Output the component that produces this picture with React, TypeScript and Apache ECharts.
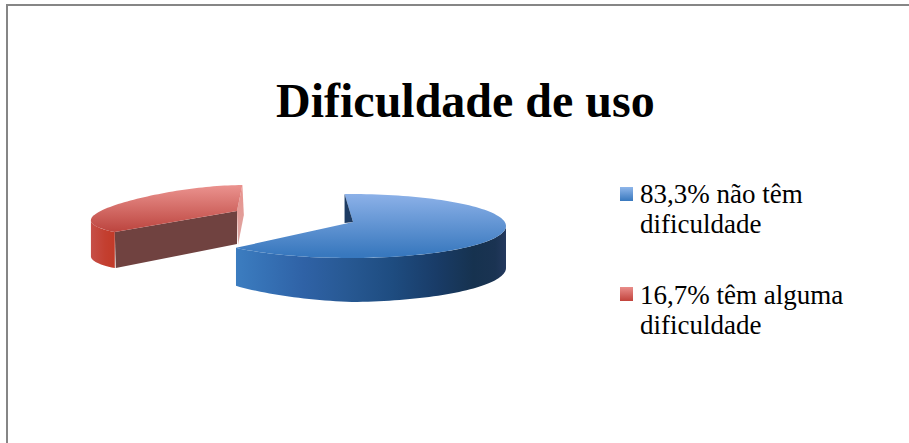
import React, { useEffect, useRef } from "react";
import * as echarts from "echarts";

const titleText = "Dificuldade de uso";
const sliceNames = ["83,3% não têm\ndificuldade", "16,7% têm alguma\ndificuldade"];
// Visual share of each slice as drawn in the picture
const sliceValues = [63.6, 36.4];

const FONT = '"Liberation Serif", serif';
const START_DEG = -2;

const vGrad = (a: string, b: string, stopB = 1) =>
  new echarts.graphic.LinearGradient(0, 0, 0, 1, [
    { offset: 0, color: a },
    { offset: stopB, color: b },
    { offset: 1, color: b },
  ]);
const hGrad = (stops: [number, string][]) =>
  new echarts.graphic.LinearGradient(
    0, 0, 1, 0,
    stops.map(([offset, color]) => ({ offset, color }))
  );

type Geo = { cx: number; cy: number; rx: number; ry: number; persp: number; apex: number[] };
const GEO: Geo[] = [
  { cx: 350, cy: 226, rx: 156, ry: 32, persp: 0, apex: [353, 222] },
  { cx: 246, cy: 213, rx: 149, ry: 28, persp: 0.3, apex: [237, 211] },
];

function pt(g: Geo, deg: number, dy = 0): number[] {
  const t = (deg * Math.PI) / 180;
  const s = 1 - g.persp * Math.cos(t);
  return [g.cx + g.rx * Math.sin(t) * s, g.cy - g.ry * Math.cos(t) + dy];
}
function arc(g: Geo, a: number, b: number, dy: (deg: number) => number = () => 0): number[][] {
  const n = Math.max(2, Math.ceil(Math.abs(b - a) / 2));
  const out: number[][] = [];
  for (let i = 0; i <= n; i++) {
    const d = a + ((b - a) * i) / n;
    out.push(pt(g, d, dy(d)));
  }
  return out;
}

function renderItem(params: any, api: any) {
  const i = params.dataIndex;
  const total = sliceValues.reduce((s, v) => s + v, 0);
  const before = sliceValues.slice(0, i).reduce((s, v) => s + v, 0);
  const a0 = START_DEG + (before / total) * 360;
  const a1 = a0 + (api.value(0) / total) * 360;
  const g = GEO[i];
  const children: any[] = [];
  const poly = (points: number[][], fill: any) => ({
    type: "polygon",
    shape: { points },
    style: { fill, stroke: "none" },
  });
  if (i === 0) {
    const depth = (d: number) =>
      d <= 180 ? 42 + (2 * (d - 90)) / 90 : 44 - (6 * (d - 180)) / (a1 - 180);
    const wa = 90;
    const top = arc(g, wa, a1);
    const bottom = arc(g, a1, wa, depth);
    children.push(
      poly(top.concat(bottom), hGrad([
        [0, "#3C7DC0"], [0.12, "#3570B4"], [0.25, "#2F62A6"], [0.42, "#275892"],
        [0.58, "#1E4C80"], [0.74, "#193C68"], [0.88, "#16324F"], [0.96, "#1A3352"], [1, "#24395E"],
      ]))
    );
    children.push(poly([g.apex as number[]].concat(arc(g, a0, a1)), vGrad("#8CB1E8", "#3878BE", 0.95)));
    const p0 = pt(g, a0);
    children.push(poly([p0, g.apex, [p0[0], g.apex[1] + 1]], "#1D3B63"));
  } else {
    const depth = 36;
    const c = pt(g, a0);
    const e = pt(g, a1);
    const leftmost = 256;
    const wallTop = arc(g, a0, leftmost);
    const wallBottom = arc(g, leftmost, a0, () => depth);
    children.push(poly(wallTop.concat(wallBottom), hGrad([[0, "#C64F48"], [0.6, "#C33F30"], [1, "#C23A28"]])));
    children.push(poly([c, g.apex, [g.apex[0], g.apex[1] + 33], [c[0] + 1, c[1] + depth]], "#704240"));
    children.push(
      poly(
        [e, [e[0] + 1.5, e[1] + 30], [g.apex[0] + 1, g.apex[1] + 34], g.apex],
        vGrad("#E9918C", "#DCA8A4")
      )
    );
    children.push(poly([g.apex as number[]].concat(arc(g, a0, a1)), vGrad("#EB938F", "#BE4842", 0.95)));
  }
  return { type: "group", children };
}

export default function App() {
  const ref = useRef<HTMLDivElement>(null);
  useEffect(() => {
    document.body.style.margin = "0";
    const chart = echarts.init(ref.current!, undefined, { renderer: "svg" });
    const legendIcon = [
      ["#8FB6EA", "#3878BE"],
      ["#E98D8A", "#C2433C"],
    ];
    chart.setOption({
      animation: false,
      backgroundColor: "#FFFFFF",
      title: {
        text: titleText,
        left: 271,
        top: 71,
        textStyle: { fontFamily: FONT, fontWeight: "bold", fontSize: 48, color: "#000000" },
      },
      series: [
        {
          type: "custom",
          coordinateSystem: "none",
          silent: true,
          renderItem,
          data: sliceValues.map((v) => [v]),
        },
      ],
      graphic: [
        { type: "line", shape: { x1: 6, y1: 5, x2: 909, y2: 5 }, style: { stroke: "#868686", lineWidth: 2 } },
        { type: "line", shape: { x1: 7, y1: 4, x2: 7, y2: 443 }, style: { stroke: "#868686", lineWidth: 2 } },
        ...sliceNames.flatMap((name, i) => [
          {
            type: "rect",
            shape: { x: 620, y: 187 + i * 100, width: 13, height: 14 },
            style: { fill: vGrad(legendIcon[i][0], legendIcon[i][1]) },
          },
          {
            type: "text",
            x: 640,
            y: 179 + i * 101,
            style: { text: name, font: `27px ${FONT}`, lineHeight: 30, fill: "#000000" },
          },
        ]),
      ],
    });
    return () => chart.dispose();
  }, []);
  return <div ref={ref} style={{ width: 909, height: 443 }} />;
}
